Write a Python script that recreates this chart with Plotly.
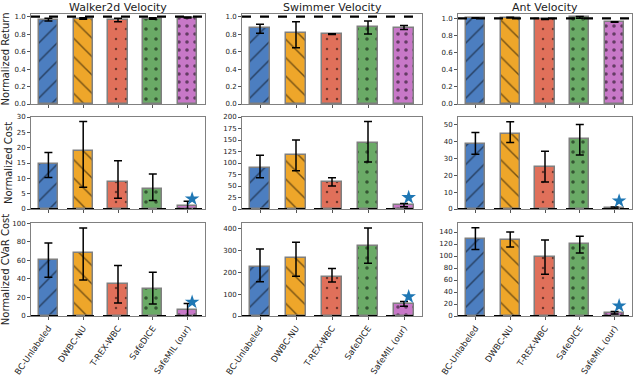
import plotly.graph_objects as go
from plotly.subplots import make_subplots

# ---- data ----
methods = ["BC-Unlabeled", "DWBC-NU", "T-REX-WBC", "SafeDICE", "SafeMIL (our)"]
envs = ["Walker2d Velocity", "Swimmer Velocity", "Ant Velocity"]
metrics = ["Normalized Return", "Normalized Cost", "Normalized CVaR Cost"]

# normalized return: bar value, top of error bar, bottom of error bar
walker_ret = [0.965, 0.978, 0.962, 0.978, 0.99]
walker_ret_hi = [0.98, 0.986, 0.982, 0.986, 0.996]
walker_ret_lo = [0.95, 0.97, 0.942, 0.97, 0.984]
swimmer_ret = [0.866, 0.81, 0.80, 0.883, 0.871]
swimmer_ret_hi = [0.913, 0.94, 0.804, 0.95, 0.898]
swimmer_ret_lo = [0.81, 0.644, 0.796, 0.80, 0.852]
ant_ret = [1.004, 1.008, 0.992, 1.01, 0.957]
ant_ret_hi = [1.007, 1.012, 0.998, 1.022, 0.96]
ant_ret_lo = [1.001, 1.004, 0.986, 1.0, 0.954]

# normalized cost
walker_cost = [14.7, 18.9, 8.9, 6.6, 1.0]
walker_cost_hi = [18.4, 28.5, 15.7, 11.4, 2.5]
walker_cost_lo = [10.3, 7.1, 3.5, 2.8, 0.0]
swimmer_cost = [89, 117, 59, 144, 8]
swimmer_cost_hi = [117, 150, 68, 190, 12]
swimmer_cost_lo = [68, 83, 50, 102, 5]
ant_cost = [38.7, 44.8, 25.2, 41.5, 0.6]
ant_cost_hi = [45.4, 51.8, 34.3, 50.2, 1.2]
ant_cost_lo = [32.5, 39.5, 16.0, 32.0, 0.1]

# normalized CVaR cost
walker_cvar = [61, 68, 35, 29, 7]
walker_cvar_hi = [79, 95, 54.5, 47.3, 13.6]
walker_cvar_lo = [42, 39, 14, 13, 0]
swimmer_cvar = [222, 265, 180, 319, 54]
swimmer_cvar_hi = [305, 336, 216, 401, 66]
swimmer_cvar_lo = [156, 181, 155, 241, 45]
ant_cvar = [128, 127, 98.6, 120, 5.5]
ant_cvar_hi = [147, 140, 126.7, 133, 7.5]
ant_cvar_lo = [111, 115, 69.7, 105, 3.5]

# blue star over SafeMIL (cost rows only)
star_cost = [3.3, 25, 4.8]
star_cvar = [15, 88, 17]

# axes
y_max = [[1.03, 1.03, 1.05], [30, 200, 54.6], [100.5, 424, 155]]
y_dtick = [[0.2, 0.2, 0.2], [5, 25, 10], [20, 100, 20]]

# ---- styling ----
colors = ["#4c7ec0", "#eea62a", "#e0705a", "#6aaa66", "#c878c8"]
patterns = [
    dict(shape="/", size=13, solidity=0.11),
    dict(shape="\\", size=13, solidity=0.11),
    dict(shape=".", size=10, solidity=0.05),
    dict(shape=".", size=10, solidity=0.1),
    dict(shape=".", size=8, solidity=0.16),
]

table = [
    [(walker_ret, walker_ret_hi, walker_ret_lo),
     (swimmer_ret, swimmer_ret_hi, swimmer_ret_lo),
     (ant_ret, ant_ret_hi, ant_ret_lo)],
    [(walker_cost, walker_cost_hi, walker_cost_lo),
     (swimmer_cost, swimmer_cost_hi, swimmer_cost_lo),
     (ant_cost, ant_cost_hi, ant_cost_lo)],
    [(walker_cvar, walker_cvar_hi, walker_cvar_lo),
     (swimmer_cvar, swimmer_cvar_hi, swimmer_cvar_lo),
     (ant_cvar, ant_cvar_hi, ant_cvar_lo)],
]
stars = [None, star_cost, star_cvar]

W, H = 640, 377
col_px = [(31, 205), (242, 422), (458, 632)]
row_px = [(14, 104), (117, 209), (223, 316)]

fig = make_subplots(rows=3, cols=3)
xs = list(range(len(methods)))

for r in range(3):
    for c in range(3):
        vals, hi, lo = table[r][c]
        plus = [h - v for h, v in zip(hi, vals)]
        minus = [v - l for v, l in zip(vals, lo)]
        for i in range(len(methods)):
            fig.add_trace(go.Bar(
                x=[xs[i]], y=[vals[i]], width=0.55,
                marker=dict(color=colors[i], line=dict(color="#7f7f7f", width=1.5),
                            pattern=dict(fgcolor="black", fillmode="overlay", **patterns[i])),
                error_y=dict(type="data", array=[plus[i]], arrayminus=[minus[i]],
                             color="black", thickness=1.5, width=4),
                showlegend=False,
            ), row=r + 1, col=c + 1)
        if stars[r] is not None:
            fig.add_trace(go.Scatter(
                x=[xs[-1] + 0.13], y=[stars[r][c]], mode="markers",
                marker=dict(symbol="star", size=11, color="#1f77b4"),
                showlegend=False,
            ), row=r + 1, col=c + 1)

        n = r * 3 + c + 1
        xa = "xaxis" if n == 1 else f"xaxis{n}"
        ya = "yaxis" if n == 1 else f"yaxis{n}"
        xref = "x" if n == 1 else f"x{n}"
        yref = "y" if n == 1 else f"y{n}"
        x0, x1 = col_px[c]
        y0, y1 = row_px[r]
        fig.layout[xa].update(
            domain=[x0 / W, x1 / W], range=[-0.5, 4.5], automargin=False,
            tickvals=xs, ticktext=methods, showticklabels=(r == 2),
            tickangle=-55, tickfont=dict(size=8.5, color="#222"),
            ticks="outside", ticklen=3, tickcolor="#555",
            showline=True, mirror=True, linecolor="#808080", linewidth=1,
            showgrid=False, zeroline=False,
        )
        fig.layout[ya].update(
            domain=[1 - y1 / H, 1 - y0 / H], range=[0, y_max[r][c]], automargin=False,
            dtick=y_dtick[r][c], tick0=0, tickformat=".1f" if r == 0 else "d",
            tickfont=dict(size=7, color="#222"),
            ticks="outside", ticklen=3, tickcolor="#555",
            showline=True, mirror=True, linecolor="#808080", linewidth=1,
            showgrid=False, zeroline=False,
        )
        if c == 0:
            fig.layout[ya].title = dict(text=metrics[r], font=dict(size=10, color="#222"), standoff=2)
        # dashed reference line (1.0 for return, 0 for costs)
        fig.add_shape(type="line", xref=f"{xref} domain", yref=yref,
                      x0=0, x1=1, y0=1.0 if r == 0 else 0, y1=1.0 if r == 0 else 0,
                      line=dict(color="black", width=2.2 if r == 0 else 2, dash="dash"),
                      layer="above")
        if r == 0:
            fig.add_annotation(text=envs[c], xref="paper", yref="paper",
                               x=(x0 + x1) / 2 / W, y=1 - 7 / H, showarrow=False,
                               xanchor="center", yanchor="middle",
                               font=dict(size=11, color="#222"))

fig.update_layout(
    width=W, height=H, margin=dict(l=0, r=0, t=0, b=0, autoexpand=False),
    paper_bgcolor="white", plot_bgcolor="white",
    font=dict(family="DejaVu Sans"), bargap=0,
)
fig.write_html("out.html", config={"displayModeBar": False},
               post_script="document.body.style.margin='0';")
